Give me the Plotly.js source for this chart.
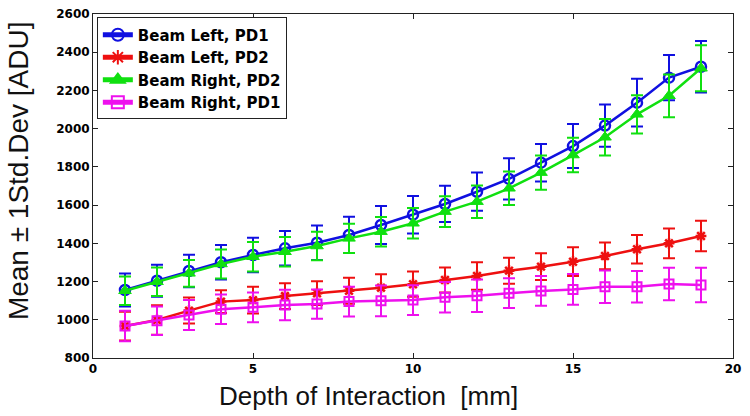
<!DOCTYPE html>
<html>
<head>
<meta charset="utf-8">
<script src="https://cdn.plot.ly/plotly-3.0.1.min.js"></script>
<style>html,body{margin:0;padding:0;background:#fff;}#chart{width:750px;height:416px;}</style>
</head>
<body>
<div id="chart"></div>
<script>
var depth = [1,2,3,4,5,6,7,8,9,10,11,12,13,14,15,16,17,18,19];

var leftPD1Mean = [1156,1204,1255,1301,1339,1374,1403,1444,1496,1550,1606,1670,1737,1822,1909,2016,2136,2267,2324];
var leftPD1Sd   = [86,84,85,90,90,90,90,95,100,98,95,100,108,98,115,110,125,118,135];

var leftPD2Mean = [967,999,1048,1095,1103,1124,1139,1152,1168,1186,1208,1229,1257,1278,1304,1334,1369,1400,1438];
var leftPD2Sd   = [75,77,68,60,70,67,62,68,70,66,65,72,68,70,75,70,75,78,80];

var rightPD2Mean = [1152,1199,1243,1292,1330,1356,1386,1426,1461,1505,1566,1618,1688,1770,1862,1955,2075,2172,2316];
var rightPD2Sd   = [75,75,70,76,77,77,74,77,77,80,80,85,88,90,90,95,100,112,120];

var rightPD1Mean = [967,995,1025,1055,1065,1077,1082,1095,1099,1103,1118,1126,1139,1151,1159,1173,1173,1187,1182];
var rightPD1Sd   = [80,75,78,77,78,80,77,78,80,78,80,85,78,78,80,85,82,85,90];

var seriesNames = ['Beam Left, PD1','Beam Left, PD2','Beam Right, PD2','Beam Right, PD1'];
var xTitle = 'Depth of Interaction\u00a0 [mm]';
var yTitle = 'Mean \u00b1 1Std.Dev [ADU]';

function tr(name, mean, sd, color, symbol, msize, mline) {
  return {
    x: depth, y: mean, name: name, type: 'scatter', mode: 'lines+markers',
    line: {color: color, width: 2.5},
    marker: {symbol: symbol, size: msize, color: color, line: {color: color, width: mline}},
    error_y: {type: 'data', array: sd, visible: true, color: color, thickness: 2, width: 6}
  };
}

var data = [
  tr(seriesNames[0], leftPD1Mean, leftPD1Sd, '#1010e0', 'circle-open', 10, 2.5),
  tr(seriesNames[1], leftPD2Mean, leftPD2Sd, '#ee1010', 'asterisk-open', 9, 2.5),
  tr(seriesNames[2], rightPD2Mean, rightPD2Sd, '#10e010', 'triangle-up', 11, 1),
  tr(seriesNames[3], rightPD1Mean, rightPD1Sd, '#ee10ee', 'square-open', 9, 2)
];

var tickFont = {family: 'DejaVu Sans, sans-serif', size: 12, color: '#000', weight: 'bold'};
var titleFontFamily = 'Liberation Sans, Arial, sans-serif';

var layout = {
  width: 750, height: 416,
  margin: {l: 93, r: 17, t: 14, b: 58},
  paper_bgcolor: '#ffffff', plot_bgcolor: '#ffffff',
  showlegend: true,
  legend: {
    x: 0.006, y: 0.99, xanchor: 'left', yanchor: 'top',
    bgcolor: '#ffffff', bordercolor: '#222', borderwidth: 1,
    font: {family: 'DejaVu Sans, sans-serif', size: 15, color: '#000', weight: 'bold'},
    tracegroupgap: 0, itemsizing: 'constant'
  },
  xaxis: {
    range: [0, 20], tickvals: [0,5,10,15,20], ticks: 'inside', ticklen: 5,
    showgrid: false, zeroline: false, showline: true, mirror: 'ticks',
    linecolor: '#222', linewidth: 1, tickcolor: '#222', tickfont: tickFont
  },
  yaxis: {
    range: [800, 2600], tickvals: [800,1000,1200,1400,1600,1800,2000,2200,2400,2600], ticks: 'inside', ticklen: 5,
    showgrid: false, zeroline: false, showline: true, mirror: 'ticks',
    linecolor: '#222', linewidth: 1, tickcolor: '#222', tickfont: tickFont
  },
  annotations: [
    {text: xTitle, xref: 'paper', yref: 'paper', x: 0.431, y: -0.11, xanchor: 'center', yanchor: 'middle',
     showarrow: false, font: {family: titleFontFamily, size: 26, color: '#111'}},
    {text: yTitle, xref: 'paper', yref: 'paper', x: -0.117, y: 0.5436, xanchor: 'center', yanchor: 'middle',
     textangle: -90, showarrow: false, font: {family: titleFontFamily, size: 28, color: '#111'}}
  ]
};

Plotly.newPlot('chart', data, layout, {displayModeBar: false, staticPlot: true});
</script>
</body>
</html>
